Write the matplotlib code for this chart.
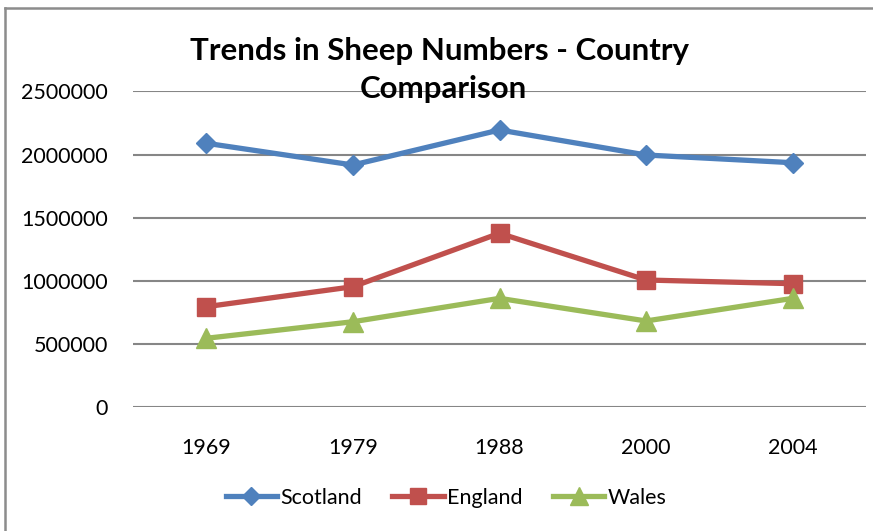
import matplotlib
matplotlib.use("Agg")
import matplotlib.pyplot as plt
from matplotlib.lines import Line2D

plt.rcParams["font.family"] = ["Lato", "DejaVu Sans"]

years = ["1969", "1979", "1988", "2000", "2004"]
scotland = [2089000, 1917000, 2194000, 1996000, 1935000]
england = [796000, 954000, 1377000, 1007000, 978000]
wales = [546000, 677000, 862000, 683000, 862000]

series = [
    ("Scotland", scotland, "#4F81BD", "D", 10),
    ("England", england, "#C0504D", "s", 13.5),
    ("Wales", wales, "#9BBB59", "^", 14),
]

fig = plt.figure(figsize=(8.73, 5.31), dpi=100)
ax = fig.add_axes([133 / 873, 1 - 407.3 / 531, (866 - 133) / 873, (407.3 - 91.3) / 531])

x = range(len(years))
for name, vals, color, marker, ms in series:
    ax.plot(x, vals, color=color, lw=3.8, marker=marker, ms=ms,
            mec=color, mfc=color, label=name, solid_joinstyle="round",
            solid_capstyle="round")

ax.set_xlim(-0.5, len(years) - 0.5)
ax.set_ylim(0, 2500000)
ax.set_yticks(range(0, 2500001, 500000))
ax.set_yticklabels([str(v) for v in range(0, 2500001, 500000)])
ax.set_xticks(list(x))
ax.set_xticklabels(years)
ax.yaxis.grid(True, color="#868686", lw=1.5)
ax.set_axisbelow(True)
for s in ax.spines.values():
    s.set_visible(False)
ax.tick_params(axis="both", length=0, labelsize=15.5, colors="#000000")
ax.tick_params(axis="y", pad=18)
ax.tick_params(axis="x", pad=22)

fig.text(440 / 873, 1 - 60 / 531, "Trends in Sheep Numbers - Country",
         ha="center", va="baseline", fontsize=22.5, fontweight="bold")
fig.text(443 / 873, 1 - 98 / 531, "Comparison",
         ha="center", va="baseline", fontsize=22.5, fontweight="bold")

handles = [Line2D([], [], color=c, lw=3.8, marker=m, ms=ms * 0.9, mec=c, mfc=c)
           for _, _, c, m, ms in series]
fig.legend(handles, [s[0] for s in series], loc="center",
           bbox_to_anchor=(446 / 873, 1 - 498 / 531), ncol=3, frameon=False,
           fontsize=15.5, handlelength=2.4, handletextpad=0.15,
           columnspacing=1.4)

# chart border (top and left edges)
fig.add_artist(Line2D([4.5 / 873, 4.5 / 873], [0, 1 - 8 / 531],
                      color="#8c8c8c", lw=1.8, transform=fig.transFigure))
fig.add_artist(Line2D([4.5 / 873, 1], [1 - 8 / 531, 1 - 8 / 531],
                      color="#8c8c8c", lw=1.8, transform=fig.transFigure))

fig.savefig("out.png", dpi=100, facecolor="white")
